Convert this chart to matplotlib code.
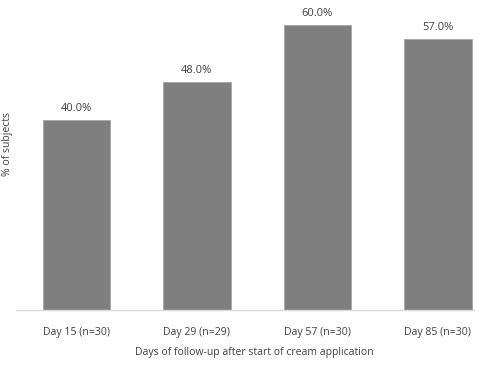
import matplotlib
matplotlib.use('Agg')
import matplotlib.pyplot as plt

categories = ['Day 15 (n=30)', 'Day 29 (n=29)', 'Day 57 (n=30)', 'Day 85 (n=30)']
values = [40.0, 48.0, 60.0, 57.0]

plt.rcParams['font.family'] = ['Open Sans', 'DejaVu Sans']

fig = plt.figure(figsize=(4.78, 3.65), dpi=100)
W, H = 478, 365
# axes in pixel coords: left, bottom(from top), right, top
x0, x1 = 16, 473.5
yb, yt = 310, 1.25
ax = fig.add_axes([x0 / W, 1 - yb / H, (x1 - x0) / W, (yb - yt) / H])

xs = range(len(categories))
ax.bar(xs, values, width=0.56, color='#7f7f7f', edgecolor='#a6a6a6', linewidth=0.6, zorder=2)
for x, v in zip(xs, values):
    ax.text(x, v + 2.5, f'{v:.1f}%', ha='center', va='center', fontsize=8, color='#404040')

ax.set_xlim(-0.5, 3.295)
ax.set_ylim(0, 65)
ax.set_xticks(list(xs))
ax.set_xticklabels(categories, fontsize=7.6, color='#404040')
ax.tick_params(axis='x', length=0, pad=12.5)
ax.set_yticks([])
for s in ['top', 'right', 'left']:
    ax.spines[s].set_visible(False)
ax.spines['bottom'].set_color('#d9d9d9')
ax.spines['bottom'].set_linewidth(1.0)

fig.text(8 / W, 1 - 144 / H, '% of subjects', rotation=90, ha='center', va='center',
         fontsize=7.5, color='#404040')
fig.text(254 / W, 1 - 353 / H, 'Days of follow-up after start of cream application',
         ha='center', va='center', fontsize=7.5, color='#404040')

fig.savefig('out.png', dpi=100)
